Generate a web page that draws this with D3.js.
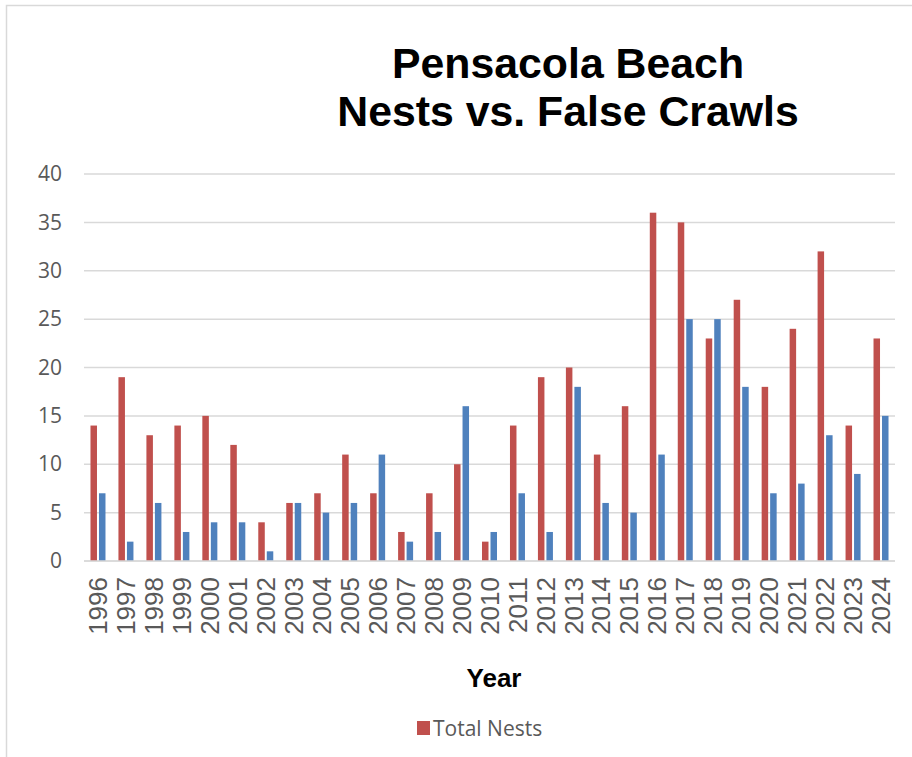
<!DOCTYPE html>
<html>
<head>
<meta charset="utf-8">
<script src="https://cdn.jsdelivr.net/npm/d3@7"></script>
<style>
  html, body { margin: 0; padding: 0; background: #ffffff; }
  svg { display: block; }
</style>
</head>
<body>
<svg id="chart" width="912" height="757"></svg>
<script>
// Sea turtle activity on Pensacola Beach by season
const years = ["1996","1997","1998","1999","2000","2001","2002","2003","2004","2005",
               "2006","2007","2008","2009","2010","2011","2012","2013","2014","2015",
               "2016","2017","2018","2019","2020","2021","2022","2023","2024"];
const totalNests = [14,19,13,14,15,12,4,6,7,11,7,3,7,10,2,14,19,20,11,16,36,35,23,27,18,24,32,14,23];
const falseCrawls = [7,2,6,3,4,4,1,6,5,6,11,2,3,16,3,7,3,18,6,5,11,25,25,18,7,8,13,9,15];
const yTicks = [0,5,10,15,20,25,30,35,40];
const seriesNames = ["Total Nests", "False Crawls"];
const seriesColors = ["#C0504D", "#4F81BD"];

const svg = d3.select("#chart");

// outer chart frame
svg.append("rect")
  .attr("x", 6.5).attr("y", 5.5)
  .attr("width", 940).attr("height", 800)
  .attr("fill", "none")
  .attr("stroke", "#d9d9d9")
  .attr("stroke-width", 1.5);

const plot = { left: 84, right: 895, top: 174, bottom: 561 };

const x = d3.scaleBand().domain(years).range([plot.left, plot.right]).paddingInner(0).paddingOuter(0);
const xSub = d3.scaleBand().domain([0, 1]).range([-7.5, 7.5]).paddingInner(0.235);
const y = d3.scaleLinear().domain([0, 40]).range([plot.bottom, plot.top]);

// title
const title = svg.append("text")
  .attr("x", 568).attr("y", 78)
  .attr("text-anchor", "middle")
  .attr("font-family", "Liberation Sans, Arial, sans-serif")
  .attr("font-weight", "bold")
  .attr("font-size", 42.8)
  .attr("fill", "#000");
title.append("tspan").attr("x", 568).attr("dy", 0).text("Pensacola Beach");
title.append("tspan").attr("x", 568).attr("dy", 47.5).text("Nests vs. False Crawls");

// horizontal gridlines
svg.append("g")
  .selectAll("line")
  .data(yTicks)
  .join("line")
  .attr("x1", plot.left).attr("x2", plot.right)
  .attr("y1", d => y(d)).attr("y2", d => y(d))
  .attr("stroke", "#d9d9d9")
  .attr("stroke-width", 1.5);

// y axis labels
const yAxis = svg.append("g")
  .attr("transform", `translate(${plot.left - 22},0)`)
  .call(d3.axisLeft(y).tickValues(yTicks).tickSize(0).tickPadding(0));
yAxis.select(".domain").remove();
yAxis.selectAll("text")
  .attr("font-family", "Open Sans, sans-serif")
  .attr("font-size", 21)
  .attr("fill", "#595959");

// bars
const rows = years.map((yr, i) => ({ year: yr, values: [totalNests[i], falseCrawls[i]] }));
const groups = svg.append("g")
  .selectAll("g")
  .data(rows)
  .join("g")
  .attr("transform", d => `translate(${x(d.year) + x.bandwidth() / 2},0)`);
groups.selectAll("rect")
  .data(d => d.values.map((v, s) => ({ v, s })))
  .join("rect")
  .attr("x", d => xSub(d.s))
  .attr("width", xSub.bandwidth())
  .attr("y", d => y(d.v))
  .attr("height", d => y(0) - y(d.v))
  .attr("fill", d => seriesColors[d.s]);

// baseline
svg.append("line")
  .attr("x1", plot.left).attr("x2", plot.right)
  .attr("y1", y(0)).attr("y2", y(0))
  .attr("stroke", "#d9d9d9")
  .attr("stroke-width", 1.5);

// x axis year labels, rotated
const xAxis = svg.append("g")
  .attr("transform", `translate(0,${plot.bottom + 16})`)
  .call(d3.axisBottom(x).tickSize(0).tickPadding(0));
xAxis.select(".domain").remove();
xAxis.selectAll("text")
  .attr("font-family", "Liberation Sans, Arial, sans-serif")
  .attr("font-size", 26)
  .attr("fill", "#595959")
  .attr("text-anchor", "end")
  .attr("dy", "0.35em")
  .attr("transform", "rotate(-90)")
  .attr("x", 0).attr("y", 0);

// x axis title
svg.append("text")
  .attr("x", 494).attr("y", 687)
  .attr("text-anchor", "middle")
  .attr("font-family", "Liberation Sans, Arial, sans-serif")
  .attr("font-weight", "bold")
  .attr("font-size", 26)
  .attr("fill", "#000")
  .text("Year");

// legend
const legend = svg.append("g").attr("transform", "translate(417,721)");
legend.append("rect")
  .attr("width", 13).attr("height", 14)
  .attr("fill", seriesColors[0]);
legend.append("text")
  .attr("x", 16).attr("y", 15)
  .attr("font-family", "Open Sans, sans-serif")
  .attr("font-size", 21)
  .attr("fill", "#595959")
  .text(seriesNames[0]);
</script>
</body>
</html>
